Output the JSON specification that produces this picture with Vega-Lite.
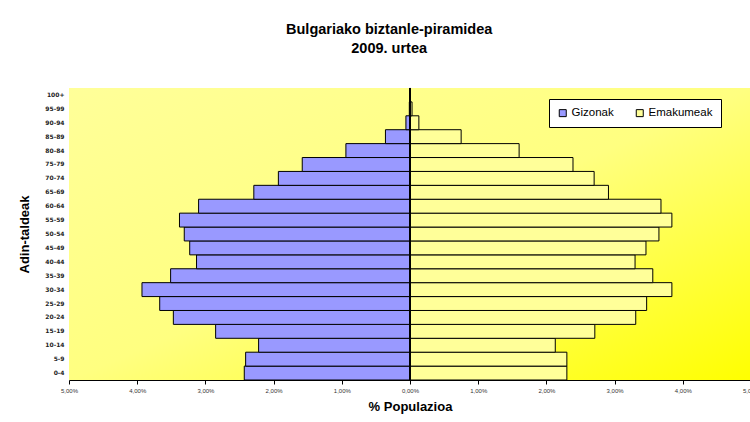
{
  "$schema": "https://vega.github.io/schema/vega-lite/v6.json",
  "width": 682,
  "height": 292,
  "autosize": "none",
  "padding": {"left": 69, "top": 88, "right": 0, "bottom": 42},
  "background": "white",
  "title": {
    "text": ["Bulgariako biztanle-piramidea", "2009. urtea"],
    "anchor": "middle",
    "frame": "bounds",
    "font": "Liberation Sans",
    "fontSize": 14.5,
    "fontWeight": "bold",
    "color": "black",
    "lineHeight": 19,
    "offset": 31
  },
  "config": {
    "view": {"stroke": null},
    "axis": {"grid": false}
  },
  "data": {
    "values": [
      {"age": "0-4", "sex": "Gizonak", "pct": -2.43},
      {"age": "5-9", "sex": "Gizonak", "pct": -2.41},
      {"age": "10-14", "sex": "Gizonak", "pct": -2.22},
      {"age": "15-19", "sex": "Gizonak", "pct": -2.85},
      {"age": "20-24", "sex": "Gizonak", "pct": -3.47},
      {"age": "25-29", "sex": "Gizonak", "pct": -3.67},
      {"age": "30-34", "sex": "Gizonak", "pct": -3.93},
      {"age": "35-39", "sex": "Gizonak", "pct": -3.51},
      {"age": "40-44", "sex": "Gizonak", "pct": -3.13},
      {"age": "45-49", "sex": "Gizonak", "pct": -3.23},
      {"age": "50-54", "sex": "Gizonak", "pct": -3.31},
      {"age": "55-59", "sex": "Gizonak", "pct": -3.38},
      {"age": "60-64", "sex": "Gizonak", "pct": -3.10},
      {"age": "65-69", "sex": "Gizonak", "pct": -2.29},
      {"age": "70-74", "sex": "Gizonak", "pct": -1.93},
      {"age": "75-79", "sex": "Gizonak", "pct": -1.58},
      {"age": "80-84", "sex": "Gizonak", "pct": -0.94},
      {"age": "85-89", "sex": "Gizonak", "pct": -0.36},
      {"age": "90-94", "sex": "Gizonak", "pct": -0.06},
      {"age": "95-99", "sex": "Gizonak", "pct": -0.01},
      {"age": "100+", "sex": "Gizonak", "pct": -0.001},
      {"age": "0-4", "sex": "Emakumeak", "pct": 2.30},
      {"age": "5-9", "sex": "Emakumeak", "pct": 2.30},
      {"age": "10-14", "sex": "Emakumeak", "pct": 2.13},
      {"age": "15-19", "sex": "Emakumeak", "pct": 2.71},
      {"age": "20-24", "sex": "Emakumeak", "pct": 3.31},
      {"age": "25-29", "sex": "Emakumeak", "pct": 3.47},
      {"age": "30-34", "sex": "Emakumeak", "pct": 3.84},
      {"age": "35-39", "sex": "Emakumeak", "pct": 3.56},
      {"age": "40-44", "sex": "Emakumeak", "pct": 3.30},
      {"age": "45-49", "sex": "Emakumeak", "pct": 3.46},
      {"age": "50-54", "sex": "Emakumeak", "pct": 3.65},
      {"age": "55-59", "sex": "Emakumeak", "pct": 3.84},
      {"age": "60-64", "sex": "Emakumeak", "pct": 3.68},
      {"age": "65-69", "sex": "Emakumeak", "pct": 2.91},
      {"age": "70-74", "sex": "Emakumeak", "pct": 2.70},
      {"age": "75-79", "sex": "Emakumeak", "pct": 2.39},
      {"age": "80-84", "sex": "Emakumeak", "pct": 1.60},
      {"age": "85-89", "sex": "Emakumeak", "pct": 0.75},
      {"age": "90-94", "sex": "Emakumeak", "pct": 0.13},
      {"age": "95-99", "sex": "Emakumeak", "pct": 0.03},
      {"age": "100+", "sex": "Emakumeak", "pct": 0.002}
    ]
  },
  "layer": [
    {
      "data": {"values": [{"bg": 1}]},
      "mark": {
        "type": "rect",
        "color": {
          "gradient": "linear",
          "x1": 0, "y1": 0, "x2": 1, "y2": 1,
          "stops": [
            {"offset": 0, "color": "#FFFF99"},
            {"offset": 0.5, "color": "#FFFF80"},
            {"offset": 1, "color": "#FFFF00"}
          ]
        }
      },
      "encoding": {}
    },
    {
      "mark": {"type": "bar", "stroke": "black", "strokeWidth": 1, "opacity": 1},
      "encoding": {
        "y": {
          "field": "age",
          "type": "nominal",
          "sort": ["100+", "95-99", "90-94", "85-89", "80-84", "75-79", "70-74", "65-69", "60-64", "55-59", "50-54", "45-49", "40-44", "35-39", "30-34", "25-29", "20-24", "15-19", "10-14", "5-9", "0-4"],
          "scale": {"paddingInner": 0, "paddingOuter": 0},
          "axis": {
            "title": "Adin-taldeak",
            "titleFont": "Liberation Sans",
            "titleFontSize": 13,
            "titleFontWeight": "bold",
            "titleColor": "black",
            "titlePadding": 13,
            "labelFont": "DejaVu Sans",
            "labelFontSize": 6,
            "labelFontWeight": "bold",
            "labelColor": "#222222",
            "labelPadding": 5,
            "ticks": false,
            "domain": false
          }
        },
        "x": {
          "field": "pct",
          "type": "quantitative",
          "scale": {"domain": [-5, 5], "nice": false},
          "axis": {
            "title": "% Populazioa",
            "titleFont": "Liberation Sans",
            "titleFontSize": 13,
            "titleFontWeight": "bold",
            "titleColor": "black",
            "titlePadding": 7,
            "values": [-5, -4, -3, -2, -1, 0, 1, 2, 3, 4, 5],
            "labelExpr": "replace(format(abs(datum.value)/100, '.2%'), '.', ',')",
            "labelFont": "Liberation Sans",
            "labelFontSize": 6,
            "labelColor": "#333333",
            "labelPadding": 3,
            "labelFlush": false,
            "labelOverlap": false,
            "domainColor": "black",
            "domainWidth": 1,
            "tickColor": "black",
            "tickSize": 4
          }
        },
        "color": {
          "field": "sex",
          "type": "nominal",
          "scale": {"domain": ["Gizonak", "Emakumeak"], "range": ["#9999FF", "#FFFF99"]},
          "legend": {
            "title": null,
            "orient": "none",
            "legendX": 480,
            "legendY": 11,
            "direction": "horizontal",
            "fillColor": "white",
            "strokeColor": "black",
            "padding": 8,
            "symbolType": "square",
            "symbolSize": 49,
            "symbolStrokeColor": "black",
            "symbolStrokeWidth": 1,
            "labelFont": "Liberation Sans",
            "labelFontSize": 11.5,
            "labelColor": "black",
            "labelOffset": 3,
            "columnPadding": 20
          }
        }
      }
    },
    {
      "mark": {"type": "rule", "color": "black", "strokeWidth": 1.5},
      "encoding": {"x": {"datum": 0}}
    }
  ]
}
